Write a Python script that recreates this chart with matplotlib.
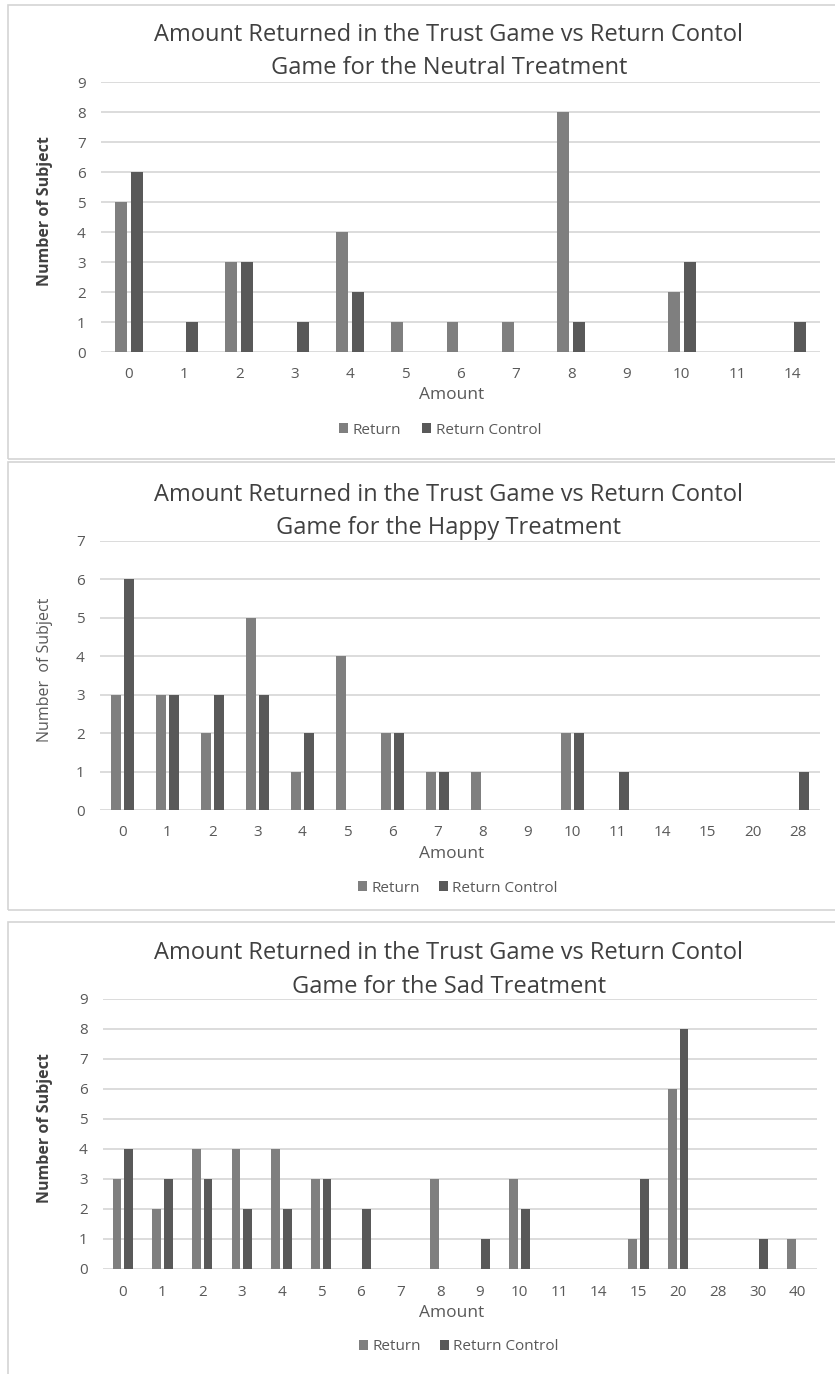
import matplotlib
matplotlib.use("Agg")
import matplotlib.pyplot as plt
from matplotlib.patches import Rectangle, Patch
from matplotlib.transforms import blended_transform_factory
import numpy as np

# ---- data -----------------------------------------------------------------
neutral_amounts = ["0", "1", "2", "3", "4", "5", "6", "7", "8", "9", "10", "11", "14"]
neutral_return = [5, 0, 3, 0, 4, 1, 1, 1, 8, 0, 2, 0, 0]
neutral_control = [6, 1, 3, 1, 2, 0, 0, 0, 1, 0, 3, 0, 1]

happy_amounts = ["0", "1", "2", "3", "4", "5", "6", "7", "8", "9", "10", "11",
                 "14", "15", "20", "28"]
happy_return = [3, 3, 2, 5, 1, 4, 2, 1, 1, 0, 2, 0, 0, 0, 0, 0]
happy_control = [6, 3, 3, 3, 2, 0, 2, 1, 0, 0, 2, 1, 0, 0, 0, 1]

sad_amounts = ["0", "1", "2", "3", "4", "5", "6", "7", "8", "9", "10", "11",
               "14", "15", "20", "28", "30", "40"]
sad_return = [3, 2, 4, 4, 4, 3, 0, 0, 3, 0, 3, 0, 0, 1, 6, 0, 0, 1]
sad_control = [4, 3, 3, 2, 2, 3, 2, 0, 0, 1, 2, 0, 0, 3, 8, 0, 1, 0]

series_names = ["Return", "Return Control"]
title_line1 = "Amount Returned in the Trust Game vs Return Contol"

# ---- style ----------------------------------------------------------------
W, H = 835, 1374
DPI = 100
C_RETURN = "#7f7f7f"
C_CONTROL = "#595959"
GRID = "#d9d9d9"
TXT = "#595959"
FONT = "Open Sans"

fig = plt.figure(figsize=(W / DPI, H / DPI), dpi=DPI)
fig.patch.set_facecolor("white")


def fx(px):
    return px / W


def fy(py):
    return 1 - py / H


def frame(x0, y0, x1, y1):
    fig.add_artist(Rectangle((fx(x0), fy(y1)), fx(x1) - fx(x0), fy(y0) - fy(y1),
                             transform=fig.transFigure, fill=False,
                             edgecolor="#d4d4d4", linewidth=1.2))


def panel(box, axes_px, title_y, cats, ret, ctl, ymax, ylabel, ylabel_weight,
          tick_y, amount_y, legend_xy, legend_gap):
    frame(*box)
    x0, ytop, x1, ybot = axes_px
    ax = fig.add_axes([fx(x0), fy(ybot), fx(x1) - fx(x0), fy(ytop) - fy(ybot)])
    n = len(cats)
    x = np.arange(n)
    bw, off = 0.215, 0.145
    ax.bar(x - off, ret, width=bw, color=C_RETURN, zorder=3)
    ax.bar(x + off, ctl, width=bw, color=C_CONTROL, zorder=3)
    ax.set_xlim(-0.5, n - 0.5)
    ax.set_ylim(0, ymax)
    ax.set_yticks(range(ymax + 1))
    ax.grid(axis="y", color=GRID, linewidth=1.3, zorder=0)
    ax.set_axisbelow(True)
    for s in ax.spines.values():
        s.set_visible(False)
    ax.tick_params(axis="both", length=0, colors=TXT, labelsize=11)
    ax.tick_params(axis="y", pad=11)
    ax.set_xticks(x)
    ax.set_xticklabels([])
    # category labels, placed at a fixed pixel row below the axis
    tr = blended_transform_factory(ax.transData, fig.transFigure)
    for i, c in enumerate(cats):
        ax.text(i, fy(tick_y), c, transform=tr, ha="center", va="center",
                fontsize=11, color=TXT, fontfamily=FONT)
    for lab in ax.get_yticklabels():
        lab.set_fontfamily(FONT)
    fig.text(fx(449), fy(title_y[0]), title_line1, ha="center", va="center",
             fontsize=17, color="#404040", fontfamily=FONT)
    fig.text(fx(449), fy(title_y[1]), title_y[2], ha="center", va="center",
             fontsize=17, color="#404040", fontfamily=FONT)
    fig.text(fx(452), fy(amount_y), "Amount", ha="center", va="center",
             fontsize=12.5, color=TXT, fontfamily=FONT)
    fig.text(fx(45), fy((ytop + ybot) / 2 - 6), ylabel, ha="center", va="center",
             rotation=90, fontsize=11.5,
             color=TXT if ylabel_weight == "normal" else "#404040",
             fontweight=ylabel_weight, fontfamily=FONT)
    handles = [Patch(facecolor=C_RETURN), Patch(facecolor=C_CONTROL)]
    leg = fig.legend(handles, series_names, loc="center",
                     bbox_to_anchor=(fx(legend_xy[0]), fy(legend_xy[1])),
                     ncol=2, frameon=False, handlelength=0.6, handleheight=0.6,
                     handletextpad=0.3, columnspacing=legend_gap,
                     prop={"family": FONT, "size": 11})
    for t in leg.get_texts():
        t.set_color(TXT)
    return ax


panel((8, 5, 840, 459), (101, 82, 820, 352), (35, 68, "Game for the Neutral Treatment"),
      neutral_amounts, neutral_return, neutral_control, 9,
      "Number of Subject", "bold", 375, 395, (440, 430), 1.4)
panel((8, 462, 840, 910), (100, 541, 820, 810), (495, 528, "Game for the Happy Treatment"),
      happy_amounts, happy_return, happy_control, 7,
      "Number  of Subject", "normal", 833, 854, (458, 888), 1.2)
panel((8, 922, 840, 1380), (103, 999, 817, 1269), (953, 987, "Game for the Sad Treatment"),
      sad_amounts, sad_return, sad_control, 9,
      "Number of Subject", "bold", 1293, 1313, (459, 1347), 1.2)

fig.savefig("out.png", dpi=DPI)
